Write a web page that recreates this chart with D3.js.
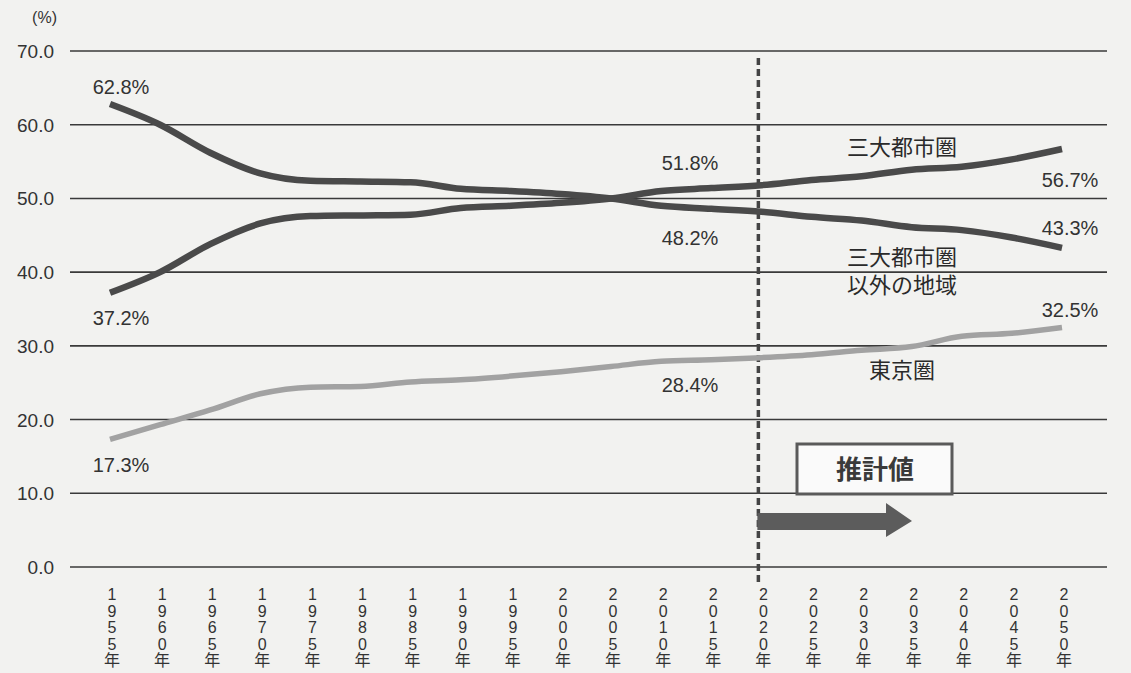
<!DOCTYPE html>
<html>
<head>
<meta charset="utf-8">
<script src="https://cdn.jsdelivr.net/npm/d3@7"></script>
<style>
  body { margin: 0; background: #f2f2f0; }
  svg { display: block; font-family: "Liberation Sans", Arial, "Noto Sans CJK JP", sans-serif; }
</style>
</head>
<body>
<svg id="chart"></svg>
<script>
const years = ["1955","1960","1965","1970","1975","1980","1985","1990","1995","2000",
  "2005","2010","2015","2020","2025","2030","2035","2040","2045","2050"];
const sandai = [37.2, 40.0, 43.8, 46.6, 47.6, 47.7, 47.8, 48.7, 49.0, 49.4,
  50.0, 51.0, 51.4, 51.8, 52.5, 53.0, 53.9, 54.3, 55.3, 56.7];
const igai = [62.8, 60.0, 56.2, 53.4, 52.4, 52.3, 52.2, 51.3, 51.0, 50.6,
  50.0, 49.0, 48.6, 48.2, 47.5, 47.0, 46.1, 45.7, 44.7, 43.3];
const tokyo = [17.3, 19.3, 21.3, 23.5, 24.4, 24.5, 25.1, 25.4, 25.9, 26.5,
  27.2, 27.9, 28.1, 28.4, 28.8, 29.4, 29.9, 31.3, 31.7, 32.5];
const yTicks = [0, 10, 20, 30, 40, 50, 60, 70];
const estimateFrom = "2020";

const w = 1131, h = 673;
const svg = d3.select("#chart").attr("width", w).attr("height", h);

const x = d3.scalePoint().domain(years).range([110, 1062]);
const y = d3.scaleLinear().domain([0, 70]).range([567, 51]);

// grid
svg.selectAll("line.grid")
  .data(yTicks)
  .enter()
  .append("line")
  .attr("x1", 70).attr("x2", 1107)
  .attr("y1", d => y(d)).attr("y2", d => y(d))
  .attr("stroke", "#3a3a3a")
  .attr("stroke-width", 1.6);

svg.selectAll("text.ytick")
  .data(yTicks)
  .enter()
  .append("text")
  .attr("x", 54)
  .attr("y", d => y(d) + 7)
  .attr("text-anchor", "end")
  .attr("font-size", 19)
  .attr("fill", "#333")
  .text(d => d.toFixed(1));

svg.append("text")
  .attr("x", 57).attr("y", 23)
  .attr("text-anchor", "end")
  .attr("font-size", 16)
  .attr("fill", "#333")
  .text("(%)");

// x tick labels, stacked vertically
const xl = svg.selectAll("text.xtick")
  .data(years)
  .enter()
  .append("text")
  .attr("text-anchor", "middle")
  .attr("font-size", 16)
  .attr("fill", "#333");
xl.selectAll("tspan")
  .data(d => (d + "年").split("").map(c => ({ c, yr: d })))
  .enter()
  .append("tspan")
  .attr("x", d => x(d.yr) + 2)
  .attr("y", (d, i) => 600 + i * 16.5)
  .text(d => d.c);

// dashed estimate line
svg.append("line")
  .attr("x1", x(estimateFrom) - 3).attr("x2", x(estimateFrom) - 3)
  .attr("y1", 58).attr("y2", 585)
  .attr("stroke", "#444")
  .attr("stroke-width", 3.5)
  .attr("stroke-dasharray", "7,4");

// arrow
const ax0 = x(estimateFrom) - 4, ax1 = 912;
svg.append("path")
  .attr("d", `M${ax0},513 L${ax1 - 26},513 L${ax1 - 26},503 L${ax1},521 L${ax1 - 26},537 L${ax1 - 26},530 L${ax0},530 Z`)
  .attr("fill", "#5c5c5c");

// 推計値 box
svg.append("rect")
  .attr("x", 797).attr("y", 444)
  .attr("width", 155).attr("height", 50)
  .attr("fill", "#fafafa")
  .attr("stroke", "#5a5a5a")
  .attr("stroke-width", 3);
svg.append("text")
  .attr("x", 875).attr("y", 479)
  .attr("text-anchor", "middle")
  .attr("font-size", 26)
  .attr("font-weight", "bold")
  .attr("fill", "#3a3a3a")
  .text("推計値");

// lines
const line = d3.line()
  .x((d, i) => x(years[i]))
  .y(d => y(d))
  .curve(d3.curveMonotoneX);

svg.append("path")
  .attr("d", line(tokyo))
  .attr("fill", "none")
  .attr("stroke", "#a2a2a2")
  .attr("stroke-width", 5.5);

svg.append("path")
  .attr("d", line(igai))
  .attr("fill", "none")
  .attr("stroke", "#4a4a4a")
  .attr("stroke-width", 6.5);

svg.append("path")
  .attr("d", line(sandai))
  .attr("fill", "none")
  .attr("stroke", "#4a4a4a")
  .attr("stroke-width", 6.5);

// value labels
const valueLabels = [
  { t: igai[0].toFixed(1) + "%", x: 121, y: 94 },
  { t: sandai[0].toFixed(1) + "%", x: 121, y: 325 },
  { t: tokyo[0].toFixed(1) + "%", x: 121, y: 472 },
  { t: sandai[13].toFixed(1) + "%", x: 690, y: 170 },
  { t: igai[13].toFixed(1) + "%", x: 690, y: 245 },
  { t: tokyo[13].toFixed(1) + "%", x: 690, y: 392 },
  { t: sandai[19].toFixed(1) + "%", x: 1070, y: 187 },
  { t: igai[19].toFixed(1) + "%", x: 1070, y: 235 },
  { t: tokyo[19].toFixed(1) + "%", x: 1070, y: 317 }
];
svg.selectAll("text.vl")
  .data(valueLabels)
  .enter()
  .append("text")
  .attr("x", d => d.x).attr("y", d => d.y)
  .attr("text-anchor", "middle")
  .attr("font-size", 20)
  .attr("fill", "#333")
  .text(d => d.t);

// series names
const names = [
  { t: "三大都市圏", x: 902, y: 155 },
  { t: "三大都市圏", x: 902, y: 265 },
  { t: "以外の地域", x: 902, y: 293 },
  { t: "東京圏", x: 902, y: 378 }
];
svg.selectAll("text.nm")
  .data(names)
  .enter()
  .append("text")
  .attr("x", d => d.x).attr("y", d => d.y)
  .attr("text-anchor", "middle")
  .attr("font-size", 22)
  .attr("fill", "#2a2a2a")
  .text(d => d.t);
</script>
</body>
</html>
